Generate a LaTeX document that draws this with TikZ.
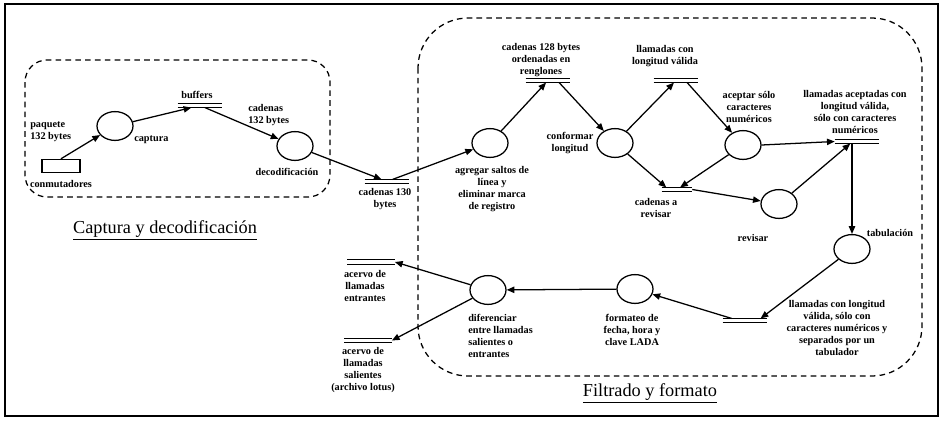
\documentclass[tikz,border=0pt]{standalone}
\usepackage{fontspec}
\setmainfont{Liberation Serif}
\usetikzlibrary{shapes.geometric,arrows.meta,calc}

\begin{document}
\begin{tikzpicture}[x=0.025cm,y=-0.025cm,
  proc/.style={draw,ellipse,line width=0.9pt,minimum width=0.9cm,minimum height=0.72cm,inner sep=0pt},
  store/.style={rectangle,inner sep=0pt,minimum width=1.1cm,minimum height=0.09cm},
  extern/.style={draw,rectangle,line width=0.9pt,minimum width=0.95cm,minimum height=0.33cm,inner sep=0pt},
  lbl/.style={font=\fontsize{7.3}{8.6}\selectfont\bfseries,align=center,inner sep=0pt},
  flow/.style={line width=0.9pt,-{Triangle[length=5.5pt,width=4.5pt]}},
  groupbox/.style={line width=0.9pt,dash pattern=on 4pt off 3pt},
  title/.style={font=\fontsize{13}{15}\selectfont,inner sep=0pt}
]
\useasboundingbox (0,0) rectangle (943,422);

% outer frame
\draw[line width=1.2pt] (5,4) rectangle (938,416);

% process groups
\draw[groupbox,rounded corners=0.55cm] (25,60) rectangle (330,197);
\draw[groupbox,rounded corners=1.25cm] (418,18) rectangle (922,376);

% external entity
\node[extern] (conm) at (61,166) {};

% processes
\node[proc] (cap) at (115,126) {};
\node[proc] (dec) at (295,146) {};
\node[proc] (agr) at (490,143) {};
\node[proc] (conf) at (615,143) {};
\node[proc] (ace) at (743,145) {};
\node[proc] (rev) at (779,204) {};
\node[proc] (tab) at (852,249) {};
\node[proc] (fmt) at (635,289) {};
\node[proc] (dif) at (488,290) {};

% data stores
\node[store] (buf) at (200,105.5) {};
\node[store] (c130) at (387,181.5) {};
\node[store] (c128) at (548,80.5) {};
\node[store] (lcv) at (676,80.5) {};
\node[store,minimum width=0.75cm] (car) at (677,189.5) {};
\node[store] (lac) at (857,141.5) {};
\node[store] (lsep) at (745,320.5) {};
\node[store,minimum width=1.18cm] (ent) at (371,262) {};
\node[store,minimum width=1.18cm] (sal) at (368,340.5) {};
\foreach \s in {buf,c130,c128,lcv,car,lac,lsep,ent,sal}
  \draw[line width=0.7pt] (\s.north west) -- (\s.north east) (\s.south west) -- (\s.south east);

% labels
\node[lbl,align=left,anchor=west] (tpaq) at (30,132) {paquete\\132 bytes};
\node[lbl] (tconm) at (61,184) {conmutadores};
\node[lbl,anchor=west] (tcap) at (134,140) {captura};
\node[lbl] (tbuf) at (197,95) {buffers};
\node[lbl,align=left,anchor=west] (tc132) at (248,115) {cadenas\\132 bytes};
\node[lbl] (tdec) at (287,172) {decodificación};
\node[lbl] (tc130) at (385,199) {cadenas 130\\bytes};
\node[lbl] (tagr) at (492,189) {agregar saltos de\\línea y\\eliminar marca\\de registro};
\node[lbl] (tc128) at (541,60) {cadenas 128 bytes\\ordenadas en\\renglones};
\node[lbl] (tconf) at (570,143) {conformar\\longitud};
\node[lbl] (tlcv) at (665,56) {llamadas con\\longitud válida};
\node[lbl] (tace) at (749,107) {aceptar sólo\\caracteres\\numéricos};
\node[lbl] (tlac) at (855,112) {llamadas aceptadas con\\longitud válida,\\sólo con caracteres\\numéricos};
\node[lbl] (tcar) at (656,208) {cadenas a\\revisar};
\node[lbl] (trev) at (753,238) {revisar};
\node[lbl] (ttab) at (890,233) {tabulación};
\node[lbl] (tlsep) at (837,328) {llamadas con longitud\\válida, sólo con\\caracteres numéricos y\\separados por un\\tabulador};
\node[lbl] (tfmt) at (632,330) {formateo de\\fecha, hora y\\clave LADA};
\node[lbl,align=left,anchor=west] (tdif) at (468,336) {diferenciar\\entre llamadas\\salientes o\\entrantes};
\node[lbl] (tent) at (365,286) {acervo de\\llamadas\\entrantes};
\node[lbl] (tsal) at (363,370) {acervo de\\llamadas\\salientes\\(archivo lotus)};

% group titles
\node[title] (tcapt) at (165,230) {\underline{Captura y decodificación}};
\node[title] (tfilt) at (650,393) {\underline{Filtrado y formato}};

% data flows
\draw[flow] (conm.north) -- (cap);
\draw[flow] (cap) -- (buf);
\draw[flow] (buf) -- (dec);
\draw[flow] (dec) -- (c130);
\draw[flow] (c130) -- (agr);
\draw[flow] (agr) -- (c128);
\draw[flow] ($(c128.south)!0.5!(c128.south east)$) -- (conf);
\draw[flow] (conf) -- (lcv);
\draw[flow] ($(lcv.south)!0.5!(lcv.south east)$) -- (ace);
\draw[flow] (conf) -- ($(car.north west)!0.3!(car.north)$);
\draw[flow] (ace) -- (car);
\draw[flow] (car.east) -- (rev);
\draw[flow] (ace.east) -- (lac.west);
\draw[flow] (rev) -- ($(lac.south west)!0.7!(lac.south)$);
\draw[flow] (lac.south -| tab.north) -- (tab.north);
\draw[flow] (tab) -- ($(lsep.north)!0.7!(lsep.north east)$);
\draw[flow] ($(lsep.north west)!0.4!(lsep.north)$) -- (fmt);
\draw[flow] (fmt) -- (dif);
\draw[flow] (dif) -- (ent.east);
\draw[flow] (dif) -- (sal.east);
\end{tikzpicture}
\end{document}
